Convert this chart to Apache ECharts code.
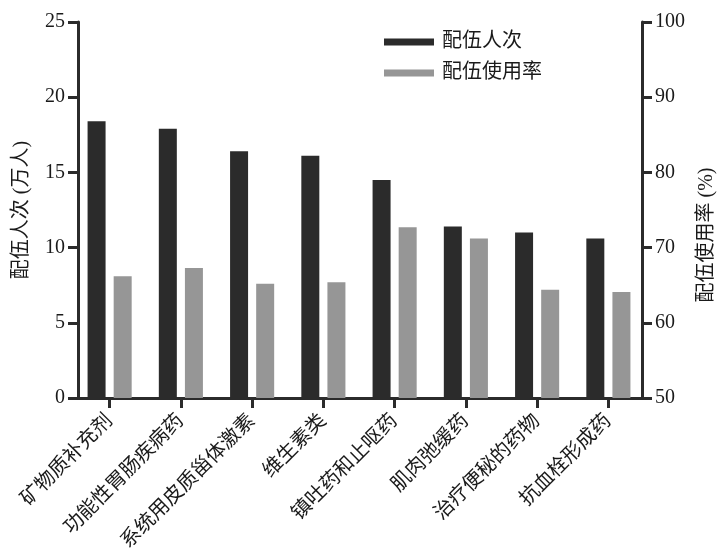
<!DOCTYPE html>
<html>
<head>
<meta charset="utf-8">
<script src="https://cdn.jsdelivr.net/npm/echarts@6/dist/echarts.min.js"></script>
<style>
  html, body { margin: 0; padding: 0; background: #fff; }
  #chart { width: 717px; height: 554px; }
</style>
</head>
<body>
<div id="chart"></div>
<script>
// Drug classes (categories)
const categories = ['矿物质补充剂', '功能性胃肠疾病药', '系统用皮质甾体激素', '维生素类',
  '镇吐药和止呕药', '肌肉弛缓药', '治疗便秘的药物', '抗血栓形成药'];
// Co-prescription count (10,000 persons) — left axis
const pairCount = [18.4, 17.9, 16.4, 16.1, 14.5, 11.4, 11.0, 10.6];
// Co-prescription usage rate (%) — right axis
const pairRate = [66.2, 67.3, 65.2, 65.4, 72.7, 71.2, 64.4, 64.1];
// Axis tick settings
const leftTicks = { min: 0, max: 25, interval: 5 };
const rightTicks = { min: 50, max: 100, interval: 10 };

const FONT = "'Liberation Serif', 'Times New Roman', 'Noto Sans CJK SC', serif";
const INK = '#2b2b2b';
const DARK = '#2b2b2b';
const LIGHT = '#969696';

const axisLine = { show: true, lineStyle: { color: INK, width: 3 } };
const axisTick = { show: true, length: 10, lineStyle: { color: INK, width: 3 } };

const chart = echarts.init(document.getElementById('chart'), null, { renderer: 'canvas' });
chart.setOption({
  animation: false,
  backgroundColor: '#fff',
  textStyle: { fontFamily: FONT },
  grid: { left: 74, right: 73, top: 22, bottom: 156, containLabel: false, outerBoundsMode: 'none' },
  legend: {
    orient: 'vertical',
    left: 379,
    top: 27,
    itemWidth: 50,
    itemHeight: 7,
    itemGap: 11,
    icon: 'rect',
    textStyle: { fontFamily: FONT, fontSize: 20, color: '#1a1a1a', padding: [0, 0, 0, 3] },
    data: ['配伍人次', '配伍使用率']
  },
  xAxis: {
    type: 'category',
    data: categories,
    axisLine: axisLine,
    axisTick: { show: true, alignWithLabel: true, length: 10, lineStyle: { color: INK, width: 3 } },
    axisLabel: {
      interval: 0,
      rotate: 45,
      margin: 20,
      fontFamily: FONT,
      fontSize: 20,
      color: '#1a1a1a'
    },
    splitLine: { show: false }
  },
  yAxis: [
    {
      type: 'value',
      position: 'left',
      offset: -4,
      min: leftTicks.min,
      max: leftTicks.max,
      interval: leftTicks.interval,
      name: '配伍人次 (万人)',
      nameLocation: 'middle',
      nameRotate: 90,
      nameGap: 46,
      nameTextStyle: { fontFamily: FONT, fontSize: 20, color: '#1a1a1a' },
      axisLine: axisLine,
      axisTick: axisTick,
      axisLabel: { margin: 13, fontFamily: FONT, fontSize: 20, color: '#1a1a1a' },
      splitLine: { show: false }
    },
    {
      type: 'value',
      position: 'right',
      offset: -2,
      min: rightTicks.min,
      max: rightTicks.max,
      interval: rightTicks.interval,
      name: '配伍使用率 (%)',
      nameLocation: 'middle',
      nameRotate: 90,
      nameGap: 55,
      nameTextStyle: { fontFamily: FONT, fontSize: 20, color: '#1a1a1a', padding: [0, 50, 0, 0] },
      axisLine: axisLine,
      axisTick: axisTick,
      axisLabel: { margin: 13, fontFamily: FONT, fontSize: 20, color: '#1a1a1a' },
      splitLine: { show: false }
    }
  ],
  series: [
    {
      name: '配伍人次',
      type: 'bar',
      yAxisIndex: 0,
      data: pairCount,
      barWidth: 18,
      barGap: '45%',
      itemStyle: { color: DARK }
    },
    {
      name: '配伍使用率',
      type: 'bar',
      yAxisIndex: 1,
      data: pairRate,
      barWidth: 18,
      barGap: '45%',
      clip: true,
      itemStyle: { color: LIGHT }
    }
  ]
});
</script>
</body>
</html>
